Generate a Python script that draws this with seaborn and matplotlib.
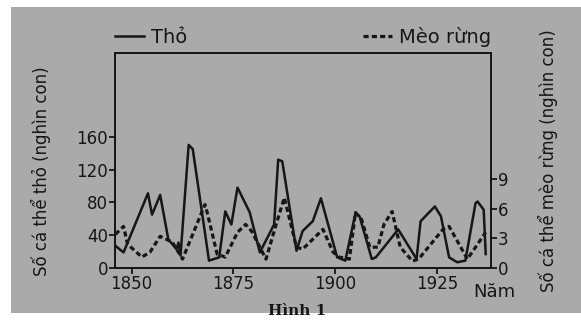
import numpy as np
import pandas as pd
import matplotlib
matplotlib.use("Agg")
import matplotlib.pyplot as plt
import seaborn as sns
from matplotlib.patches import Rectangle

# số liệu (năm, nghìn con)
hare_years = [1846, 1848, 1854, 1855, 1857, 1859, 1861, 1861.5, 1862, 1864, 1865,
              1869, 1871.5, 1873, 1874.5, 1876, 1879, 1881.5, 1885, 1886, 1887,
              1890.5, 1892, 1894.5, 1896.5, 1900.5, 1902.5, 1905, 1906, 1909, 1910,
              1915.5, 1920, 1921, 1924.5, 1926, 1928, 1930, 1932, 1934.5, 1935,
              1936.5, 1937]
hare_values = [27, 19, 91, 65, 89, 35, 23, 31, 15, 150, 145,
               9, 13, 69, 53, 98, 68, 19, 53, 132, 130,
               21, 45, 57, 85, 13, 9, 67, 63, 11, 13,
               47, 11, 57, 75, 63, 13, 7, 9, 79, 81,
               71, 17]

lynx_years = [1846, 1848, 1849, 1852.5, 1854.5, 1857, 1860, 1862.5, 1865, 1868,
              1868.5, 1871, 1873, 1876, 1878, 1879.5, 1883, 1885.5, 1887.5,
              1890.5, 1892, 1897, 1899.5, 1901, 1903.5, 1905, 1906.5, 1908.5,
              1910.5, 1912, 1914, 1916, 1919, 1920.5, 1926.5, 1928, 1932.5, 1937]
lynx_values = [3.4, 4.2, 2.4, 1.1, 1.6, 3.2, 2.6, 0.9, 3.4, 6.4,
               5.7, 1.4, 1.1, 3.6, 4.4, 3.7, 0.9, 4.4, 7.1,
               2.1, 1.9, 3.9, 1.6, 1.1, 0.9, 5.6, 4.9, 2.1,
               2.1, 4.4, 5.7, 2.1, 0.7, 0.9, 3.9, 4.2, 0.9, 3.6]

x_ticks = [1850, 1875, 1900, 1925]
left_ticks = [0, 40, 80, 120, 160]
right_ticks = [0, 3, 6, 9]

hare_df = pd.DataFrame({"Năm": hare_years, "Thỏ": hare_values})
lynx_df = pd.DataFrame({"Năm": lynx_years, "Mèo rừng": lynx_values})

ink = "#161616"
bg = "#aaaaaa"
plt.rcParams["font.family"] = ["DejaVu Sans"]

fig = plt.figure(figsize=(5.81, 3.22), dpi=100, facecolor="white")
# nền xám của ảnh scan
fig.patches.append(Rectangle((11 / 581, 1 - 313 / 322), 1 - 11 / 581, (313 - 7) / 322,
                             transform=fig.transFigure, facecolor=bg, edgecolor="none", zorder=-10))

ax = fig.add_axes([115 / 581, 1 - 268 / 322, (491 - 115) / 581, (268 - 53) / 322])
ax.set_facecolor(bg)
ax2 = ax.twinx()

sns.lineplot(data=hare_df, x="Năm", y="Thỏ", ax=ax, color=ink, linewidth=1.8,
             sort=False, label="Thỏ", legend=False)
sns.lineplot(data=lynx_df, x="Năm", y="Mèo rừng", ax=ax2, color=ink, linewidth=2.3,
             sort=False, label="Mèo rừng", legend=False)
ax2.lines[0].set_linestyle((0, (1.6, 1.0)))

ax.set_xlim(1845.9, 1938.3)
ax.set_ylim(0, 262)
ax2.set_ylim(0, 21.7)
ax.set_xticks(x_ticks)
ax.set_yticks(left_ticks)
ax2.set_yticks(right_ticks)

for a in (ax, ax2):
    for s in a.spines.values():
        s.set_color(ink)
        s.set_linewidth(1.4)
    a.tick_params(colors=ink, labelsize=12, length=4, width=1.3, pad=1)

ax.set_xlabel("")
ax.set_ylabel("Số cá thể thỏ (nghìn con)", fontsize=12, color=ink, labelpad=2)
ax2.set_ylabel("Số cá thể mèo rừng (nghìn con)", fontsize=12, color=ink,
               rotation=90, labelpad=4)
ax.yaxis.set_label_coords(-0.17, 0.45)
ax2.yaxis.set_label_coords(1.125, 0.5)

fig.text(473 / 581, 1 - 292 / 322, "Năm", fontsize=13, color=ink, ha="left", va="center")
fig.text(297 / 581, 1 - 311 / 322, "Hình 1", fontsize=11, color=ink, ha="center",
         va="center", family="DejaVu Serif", fontweight="bold")

# chú thích
h1 = ax.lines[0]
h2 = ax2.lines[0]
ax.legend([h1], ["Thỏ"], loc="lower left", bbox_to_anchor=(0.0, 1.03),
          frameon=False, fontsize=14, handlelength=1.5, handletextpad=0.35,
          borderaxespad=0, borderpad=0, labelcolor=ink)
ax2.legend([h2], ["Mèo rừng"], loc="lower right", bbox_to_anchor=(1.0, 1.03),
           frameon=False, fontsize=14, handlelength=1.5, handletextpad=0.35,
           borderaxespad=0, borderpad=0, labelcolor=ink)

fig.savefig("out.png", dpi=100, facecolor="white")
